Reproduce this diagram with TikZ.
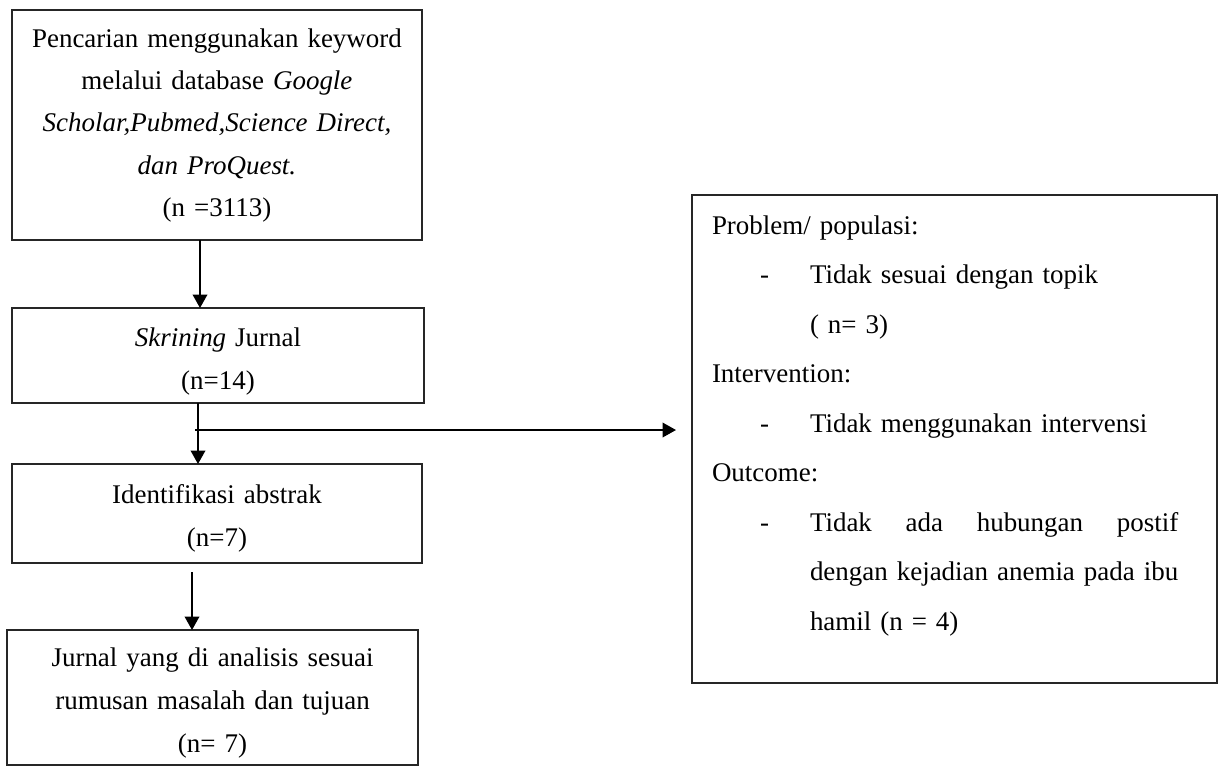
\documentclass[tikz,border=0pt]{standalone}
\usepackage{fontspec}
\setmainfont{Liberation Serif}
\usetikzlibrary{arrows.meta}
\newlength{\pxunit}
\setlength{\pxunit}{0.4452pt}
\newlength{\longline}
\newcommand{\itemdash}{\makebox[98\pxunit][l]{\hspace*{48\pxunit}-}}
\newcommand{\itemgap}{\hspace*{98\pxunit}}

\begin{document}
\begin{tikzpicture}[
    x=0.4452pt, y=-0.4452pt,
    box/.style={draw=black!85, line width=0.6pt, anchor=north west,
        inner xsep=0pt, inner ysep=0pt, outer sep=0pt, align=center,
        font=\fontsize{12pt}{19.1pt}\selectfont},
    flow/.style={-{Triangle[length=6pt, width=6.5pt]}, line width=0.8pt}
]
    \useasboundingbox (0,0) rectangle (1218,767);

    % Coordinates
    \coordinate (search_nw)   at (12, 10);
    \coordinate (screen_nw)   at (12, 308);
    \coordinate (abstract_nw) at (12, 464);
    \coordinate (analysis_nw) at (7, 630);
    \coordinate (criteria_nw) at (692, 195);

    \coordinate (laneA) at (200, 0);
    \coordinate (laneB) at (198, 0);
    \coordinate (laneC) at (192, 0);
    \coordinate (split)   at (195, 430);
    \coordinate (exclude) at (676, 430);
    \coordinate (gap)     at (192, 572);

    % Flow boxes (left column)
    \node[box, text width=182.5pt, text height=16.5pt, text depth=85.9pt,
        font=\fontsize{12pt}{18.9pt}\selectfont] (search) at (search_nw)
        {Pencarian menggunakan keyword\\
         melalui database \textit{Google}\\
         \textit{Scholar,Pubmed,Science Direct,}\\
         \textit{dan ProQuest.}\\
         (n =3113)};

    \node[box, text width=183.4pt, text height=17.3pt, text depth=25.0pt] (screen) at (screen_nw)
        {\textit{Skrining} Jurnal\\ (n=14)};

    \node[box, text width=182.5pt, text height=17.4pt, text depth=26.7pt] (abstract) at (abstract_nw)
        {Identifikasi abstrak\\ (n=7)};

    \node[box, text width=183.0pt, text height=16.4pt, text depth=43.7pt] (analysis) at (analysis_nw)
        {Jurnal yang di analisis sesuai\\ rumusan masalah dan tujuan\\ (n= 7)};

    % Exclusion box (right)
    \node[box, align=left, inner xsep=8.9pt, text width=215.9pt,
        text height=17.4pt, text depth=199.9pt,
        font=\fontsize{12pt}{22.04pt}\selectfont] (criteria) at (criteria_nw)
        {\settowidth{\longline}{dengan kejadian anemia pada ibu}%
         Problem/ populasi:\\
         \itemdash Tidak sesuai dengan topik\\
         \itemgap ( n= 3)\\
         Intervention:\\
         \itemdash Tidak menggunakan intervensi\\
         Outcome:\\
         \itemdash \makebox[\longline][l]{Tidak\hfill ada\hfill hubungan\hfill postif}\\
         \itemgap dengan kejadian anemia pada ibu\\
         \itemgap hamil (n = 4)};

    % Arrows
    \draw[flow] (search.south -| laneA) -- (screen.north -| laneA);
    \draw[flow] (screen.south -| laneB) -- (abstract.north -| laneB);
    \draw[flow] (split) -- (exclude);
    \draw[flow] (gap) -- (analysis.north -| laneC);

\end{tikzpicture}
\end{document}
